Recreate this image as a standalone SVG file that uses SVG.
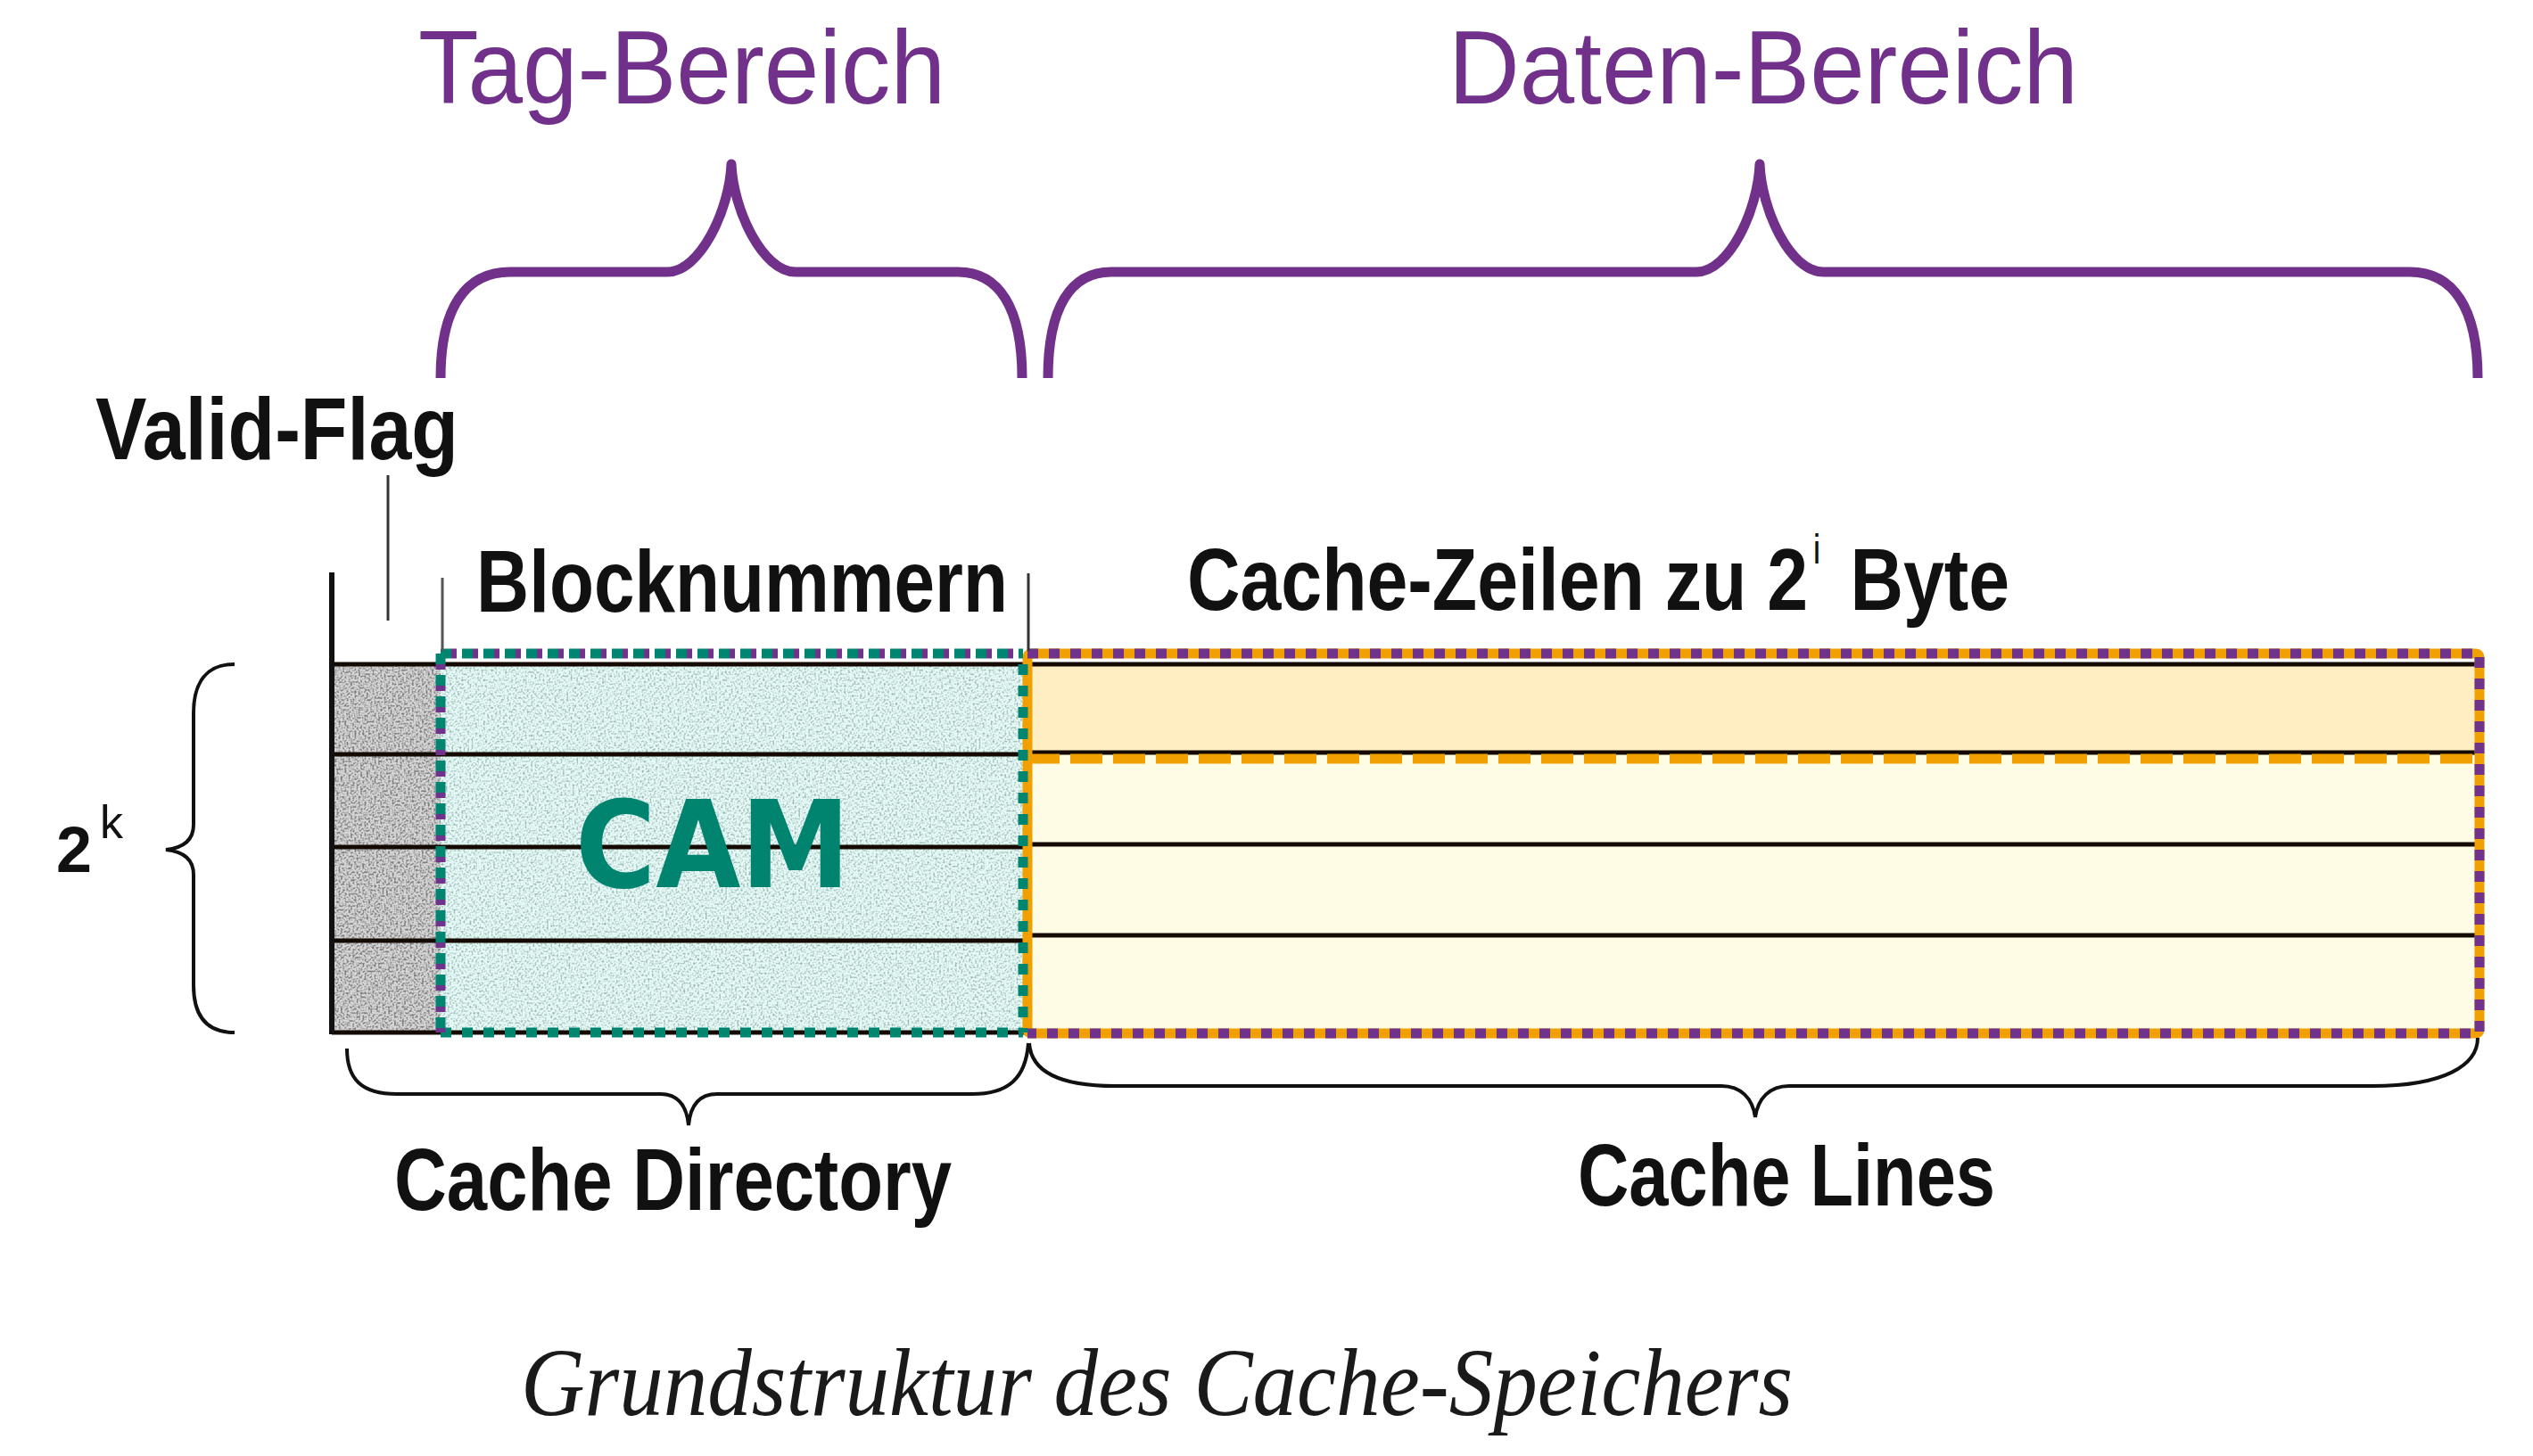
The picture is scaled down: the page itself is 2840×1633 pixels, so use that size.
<svg xmlns="http://www.w3.org/2000/svg" width="2840" height="1633" viewBox="0 0 2840 1633">
<style>
.ptitle{font-family:"Liberation Sans",Arial,sans-serif;font-size:116px;fill:#71318B}
.lbl{font-family:"Liberation Sans",Arial,sans-serif;font-weight:bold;font-size:99px;fill:#111}
.cap{font-family:"Liberation Serif","Times New Roman",serif;font-style:italic;font-size:108px;fill:#1a1a1a}
.pbrace{fill:none;stroke:#71318B;stroke-width:11;stroke-linecap:butt;stroke-linejoin:round}
.bbrace{fill:none;stroke:#111;stroke-width:4}
.tick{fill:none;stroke:#333;stroke-width:3}
.row{stroke:#150a00;stroke-width:5}
.teal{fill:none;stroke:#008670;stroke-width:11;stroke-dasharray:12 12}
.tealp{fill:none;stroke:#70338C;stroke-width:11;stroke-dasharray:6 18;stroke-dashoffset:-12}
.orange{fill:none;stroke:#F0A000;stroke-width:11}
</style>
<defs>
<filter id="speckGray" x="0" y="0" width="1" height="1">
<feTurbulence type="fractalNoise" baseFrequency="0.45" numOctaves="1" seed="4"/>
<feColorMatrix type="matrix" values="0 0 0 0 0.2  0 0 0 0 0.2  0 0 0 0 0.2  -3.4 0 0 0 1.95"/>
</filter>
<filter id="speckTeal" x="0" y="0" width="1" height="1">
<feTurbulence type="fractalNoise" baseFrequency="0.45" numOctaves="1" seed="9"/>
<feColorMatrix type="matrix" values="0 0 0 0 0.3  0 0 0 0 0.45  0 0 0 0 0.42  -2.9 0 0 0 1.6"/>
</filter>
</defs>
<rect width="2840" height="1633" fill="#ffffff"/>

<g id="title-tag"><text class="ptitle" x="469" y="116" textLength="591" lengthAdjust="spacingAndGlyphs">Tag-Bereich</text></g>
<g id="title-daten"><text class="ptitle" x="1624" y="116" textLength="706" lengthAdjust="spacingAndGlyphs">Daten-Bereich</text></g>

<g id="valid-flag-label"><text class="lbl" x="107" y="515" textLength="407" lengthAdjust="spacingAndGlyphs">Valid-Flag</text></g>
<g id="blocknummern-label"><text class="lbl" x="534" y="686" textLength="596" lengthAdjust="spacingAndGlyphs">Blocknummern</text></g>
<g id="cachezeilen-label">
<text class="lbl" transform="translate(1331 684) scale(0.8325 1)"><tspan x="0" y="0">Cache-Zeilen zu 2</tspan><tspan x="843" y="-52" style="font-size:46px;font-weight:normal">i</tspan><tspan x="893" y="0">Byte</tspan></text>
</g>

<g id="valid-column">
<rect x="372" y="745" width="122" height="413" fill="#d6d6d6"/>
<rect x="372" y="745" width="122" height="413" fill="#000" filter="url(#speckGray)"/>
</g>
<g id="cam-region">
<rect x="494" y="745" width="653" height="413" fill="#E6FBF8"/>
<rect x="494" y="745" width="653" height="413" fill="#000" filter="url(#speckTeal)"/>
</g>
<g id="data-region">
<rect x="1152" y="745" width="1628" height="101" fill="#FFEEC2"/>
<rect x="1152" y="846" width="1628" height="312" fill="#FFFCE6"/>
</g>

<g id="grid-lines">
<line class="row" x1="372" y1="745" x2="2776" y2="745"/>
<line class="row" x1="372" y1="846" x2="1150" y2="846"/>
<line class="row" x1="372" y1="950" x2="1150" y2="950"/>
<line class="row" x1="372" y1="1055" x2="1150" y2="1055"/>
<line class="row" x1="372" y1="1158" x2="1150" y2="1158"/>
<line class="row" x1="1152" y1="844" x2="2776" y2="844"/>
<line class="row" x1="1152" y1="947" x2="2776" y2="947"/>
<line class="row" x1="1152" y1="1049" x2="2776" y2="1049"/>
<line x1="372" y1="642" x2="372" y2="1160" stroke="#111" stroke-width="6"/>
</g>

<g id="data-outline">
<rect class="orange" x="1152" y="733" width="1628" height="426" rx="4"/>
<line x1="1152" y1="851" x2="2780" y2="851" stroke="#F0A000" stroke-width="11" stroke-dasharray="36 12"/>
<path d="M1152,733 H2780 V1159 H1152" fill="none" stroke="#70338C" stroke-width="11" stroke-dasharray="12 12"/>
</g>

<g id="cam-outline">
<path class="teal" d="M494,733 H1147"/>
<path class="teal" d="M494,733 V1158"/>
<path class="teal" d="M1147,745 V1158"/>
<path class="teal" d="M494,1158 H1147"/>
<path class="tealp" d="M494,733 H1147"/>
<path class="tealp" d="M494,733 V1158"/>
</g>

<g id="cam-label"><text x="645" y="995" font-family="'DejaVu Sans',Verdana,sans-serif" font-weight="bold" font-size="136" fill="#00836F" textLength="308" lengthAdjust="spacingAndGlyphs">CAM</text></g>

<g id="rows-label">
<text class="lbl" x="63" y="978" style="font-size:72px">2</text>
<text x="112" y="940" font-family="'Liberation Sans',Arial,sans-serif" font-size="52" fill="#111">k</text>
</g>

<g id="connectors">
<path class="pbrace" d="M494,424 C494,345 522,305 572,305 L748,305 C785,305 818,235 820,184 C822,235 855,305 892,305 L1074,305 C1120,305 1146,345 1146,424"/>
<path class="pbrace" d="M1175,424 C1175,345 1200,305 1246,305 L1902,305 C1939,305 1971,235 1973,184 C1975,235 2007,305 2044,305 L2702,305 C2750,305 2778,345 2778,424"/>
<line class="tick" x1="435" y1="533" x2="435" y2="696"/>
<line x1="496" y1="648" x2="496" y2="730" stroke="#555" stroke-width="3"/>
<line class="tick" x1="1153" y1="643" x2="1153" y2="730"/>
<path class="bbrace" d="M263,745 C232,745 217,765 217,800 L217,925 C217,943 205,951 186,953 C205,955 217,963 217,981 L217,1105 C217,1140 232,1158 263,1158"/>
<path class="bbrace" d="M389,1176 C389,1210 405,1227 445,1227 L740,1227 C760,1227 770,1240 772,1262 C774,1240 784,1227 804,1227 L1090,1227 C1130,1227 1150,1210 1153,1170"/>
<path class="bbrace" d="M1154,1170 C1156,1200 1185,1218 1250,1218 L1930,1218 C1952,1218 1965,1232 1968,1253 C1971,1232 1984,1218 2006,1218 L2660,1218 C2740,1218 2778,1195 2778,1164"/>
</g>

<g id="cache-directory-label"><text class="lbl" x="442" y="1357" textLength="625" lengthAdjust="spacingAndGlyphs">Cache Directory</text></g>
<g id="cache-lines-label"><text class="lbl" x="1769" y="1352" textLength="468" lengthAdjust="spacingAndGlyphs">Cache Lines</text></g>
<g id="caption"><text class="cap" x="584" y="1587" textLength="1426" lengthAdjust="spacingAndGlyphs">Grundstruktur des Cache-Speichers</text></g>
</svg>
